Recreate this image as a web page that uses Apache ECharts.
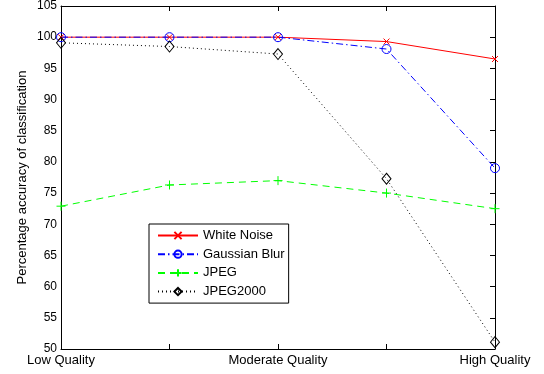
<!DOCTYPE html>
<html>
<head>
<meta charset="utf-8">
<script src="https://cdn.jsdelivr.net/npm/echarts@6/dist/echarts.min.js"></script>
<style>
  html, body { margin: 0; padding: 0; background: #fff; }
  #chart { width: 544px; height: 374px; }
</style>
</head>
<body>
<div id="chart"></div>
<script>
// quality levels on the x axis (only 1st, 3rd and 5th carry a label)
var qualityLevels = ['Low Quality', '', 'Moderate Quality', '', 'High Quality'];
// percentage accuracy of classification per distortion type
var whiteNoise   = [100, 100, 100, 99.3, 96.5];
var gaussianBlur = [100, 100, 100, 98.1, 79.0];
var jpeg         = [72.9, 76.3, 77.0, 75.0, 72.5];
var jpeg2000     = [99.1, 98.5, 97.3, 77.3, 51.1];

var font = 'Liberation Sans, Arial, Helvetica, sans-serif';
var crossMark = 'path://M0,0L10,10M0,10L10,0';
var plusMark = 'path://M5,0L5,10M0,5L10,5';

var myChart = echarts.init(document.getElementById('chart'));

//helper for one MATLAB-like line series
function makeSeries(name, data, color, dash, symbol, size) {
    return {
        name: name,
        type: 'line',
        data: data,
        symbol: symbol,
        symbolSize: size,
        symbolKeepAspect: true,
        showSymbol: true,
        lineStyle: { color: color, width: 1, type: dash },
        itemStyle: { color: 'rgba(0,0,0,0)', borderColor: color, borderWidth: 1 },
        emphasis: { disabled: true }
    };
}

var option = {
    animation: false,
    grid: { left: 61, right: 49, top: 6, bottom: 25 },
    legend: {
        orient: 'vertical',
        left: 149,
        top: 224,
        backgroundColor: '#fff',
        borderColor: '#000',
        borderWidth: 1,
        padding: [5, 4, 5, 8],
        itemWidth: 40,
        itemHeight: 9,
        itemGap: 5.7,
        textStyle: { fontFamily: font, fontSize: 13, color: '#000' },
        data: ['White Noise', 'Gaussian Blur', 'JPEG', 'JPEG2000']
    },
    xAxis: [
        {
            type: 'category',
            data: qualityLevels,
            boundaryGap: false,
            axisLine: { lineStyle: { color: '#000', width: 1 } },
            axisTick: { inside: true, length: 5, interval: 0, lineStyle: { color: '#000' } },
            axisLabel: { interval: 0, margin: 5, fontFamily: font, fontSize: 13, color: '#000' },
            splitLine: { show: false }
        },
        {
            type: 'category',
            data: qualityLevels,
            boundaryGap: false,
            position: 'top',
            axisLine: { lineStyle: { color: '#000', width: 1 } },
            axisTick: { inside: true, length: 5, interval: 0, lineStyle: { color: '#000' } },
            axisLabel: { show: false },
            splitLine: { show: false }
        }
    ],
    yAxis: [
        {
            type: 'value',
            min: 50,
            max: 105,
            interval: 5,
            name: 'Percentage accuracy of classification',
            nameLocation: 'middle',
            nameGap: 32,
            nameMoveOverlap: false,
            nameTextStyle: { fontFamily: font, fontSize: 13, color: '#000' },
            axisLine: { show: true, lineStyle: { color: '#000', width: 1 } },
            axisTick: { show: false },
            axisLabel: { margin: 4, fontFamily: font, fontSize: 12, color: '#000' },
            splitLine: { show: false }
        },
        {
            type: 'value',
            min: 50,
            max: 105,
            interval: 5,
            position: 'right',
            axisLine: { show: true, lineStyle: { color: '#000', width: 1 } },
            axisTick: { show: true, inside: true, length: 5, lineStyle: { color: '#000' } },
            axisLabel: { show: false },
            splitLine: { show: false }
        }
    ],
    series: [
        makeSeries('White Noise', whiteNoise, '#ff0000', 'solid', crossMark, 6),
        makeSeries('Gaussian Blur', gaussianBlur, '#0000ff', [7, 3, 1.5, 3], 'circle', 9),
        makeSeries('JPEG', jpeg, '#00ff00', [7, 5], plusMark, 9),
        makeSeries('JPEG2000', jpeg2000, '#000000', [1, 3], 'diamond', [9, 11])
    ]
};

myChart.setOption(option);
</script>
</body>
</html>
